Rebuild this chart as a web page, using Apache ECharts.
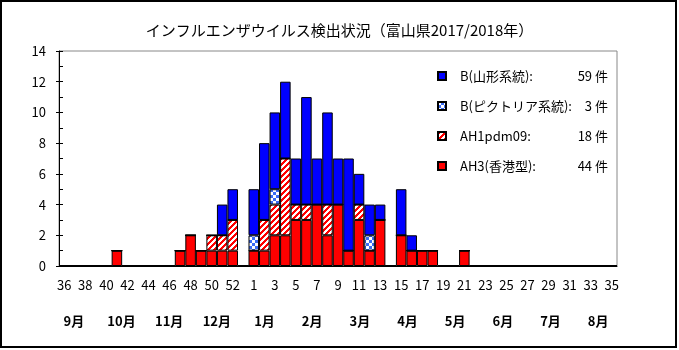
<!DOCTYPE html>
<html><head><meta charset="utf-8">
<script src="https://cdn.jsdelivr.net/npm/echarts@6/dist/echarts.min.js"></script>
<style>html,body{margin:0;padding:0;background:#fff}#c{width:679px;height:350px}</style>
</head><body><div id="c"></div>
<script>
// Week slots (2017 wk36 .. 2018 wk35); the blank slot sits between 52 and 1
const weeks = ['36','37','38','39','40','41','42','43','44','45','46','47','48','49','50','51','52','',
  '1','2','3','4','5','6','7','8','9','10','11','12','13','14','15','16','17','18','19','20','21',
  '22','23','24','25','26','27','28','29','30','31','32','33','34','35'];
const months = ['9月','10月','11月','12月','1月','2月','3月','4月','5月','6月','7月','8月'];
const yTicks = [0,2,4,6,8,10,12,14];

const ah3 = [0,0,0,0,0,1,0,0,0,0,0,1,2,1,1,1,1,0,
  1,1,2,2,3,3,4,2,4,1,3,1,3,0,2,1,1,1,0,0,1,
  0,0,0,0,0,0,0,0,0,0,0,0,0,0];
const ah1pdm = [0,0,0,0,0,0,0,0,0,0,0,0,0,0,1,1,2,0,
  0,2,2,5,1,1,0,2,0,0,1,0,0,0,0,0,0,0,0,0,0,
  0,0,0,0,0,0,0,0,0,0,0,0,0,0];
const bVic = [0,0,0,0,0,0,0,0,0,0,0,0,0,0,0,0,0,0,
  1,0,1,0,0,0,0,0,0,0,0,1,0,0,0,0,0,0,0,0,0,
  0,0,0,0,0,0,0,0,0,0,0,0,0,0];
const bYam = [0,0,0,0,0,0,0,0,0,0,0,0,0,0,0,2,2,0,
  3,5,5,5,3,7,3,6,3,6,2,2,1,0,3,1,0,0,0,0,0,
  0,0,0,0,0,0,0,0,0,0,0,0,0,0];

const names = ['AH3(香港型)','AH1pdm09','B(ピクトリア系統)','B(山形系統)'];
const seriesData = [ah3, ah1pdm, bVic, bYam];
const totals = {};
names.forEach((n,i)=>{ totals[n] = seriesData[i].reduce((a,b)=>a+b,0); });

function makePattern(size, fn){
  const c=document.createElement('canvas'); c.width=c.height=size;
  const ctx=c.getContext('2d');
  for(let y=0;y<size;y++) for(let x=0;x<size;x++){ ctx.fillStyle=fn(x,y); ctx.fillRect(x,y,1,1); }
  return {image:c, repeat:'repeat'};
}
const hatch = makePattern(6,(x,y)=>((x+y)%6<3)?'#ff0000':'#ffffff');
const checker = makePattern(6,(x,y)=>((Math.floor(x/3)+Math.floor(y/3))%2===0)?'#ffffff':'#3a6cf4');
const fills = ['#ff0000', hatch, checker, '#0000ff'];

const font = '"Noto Sans CJK JP", "Noto Sans", sans-serif';
const chart = echarts.init(document.getElementById('c'), null, {renderer:'canvas'});
chart.setOption({
  animation:false,
  backgroundColor:'#fff',
  title:{text:'インフルエンザウイルス検出状況（富山県2017/2018年）', left:'center', top:18,
    textStyle:{fontSize:15, fontWeight:'normal', color:'#000', fontFamily:font}},
  graphic:[{type:'rect', shape:{x:1,y:1,width:675,height:346}, style:{fill:'none', stroke:'#000', lineWidth:2}, z:100}],
  legend:{
    data:['B(山形系統)','B(ピクトリア系統)','AH1pdm09','AH3(香港型)'],
    orient:'vertical', left:432, top:64, itemWidth:8, itemHeight:8, itemGap:16, icon:'rect',
    formatter: n => '{n|'+n+':}{c|'+totals[n]+' 件}',
    textStyle:{fontFamily:font, fontSize:13, color:'#000', lineHeight:14,
      rich:{n:{width:106, padding:[0,0,0,9], fontSize:13, fontFamily:font},
            c:{width:42, align:'right', fontSize:13, fontFamily:font}}}
  },
  grid:[
    {left:59, right:62, top:51, bottom:84, show:true, borderColor:'#888', borderWidth:1},
    {left:50, right:57, top:305, height:5}
  ],
  xAxis:[
    {type:'category', gridIndex:0, data:weeks,
      axisLine:{lineStyle:{color:'#000', width:1}},
      axisTick:{inside:true, length:4, interval:0, lineStyle:{color:'#000'}},
      axisLabel:{interval:1, margin:13, fontSize:13, color:'#000', fontFamily:font}},
    {type:'category', gridIndex:1, data:months,
      axisLine:{show:false}, axisTick:{show:false},
      axisLabel:{margin:5, fontSize:13, fontWeight:'bold', color:'#000', fontFamily:font}}
  ],
  yAxis:[
    {type:'value', gridIndex:0, min:yTicks[0], max:yTicks[yTicks.length-1], interval:2,
      splitLine:{show:false},
      axisLine:{show:true, lineStyle:{color:'#000'}},
      axisTick:{show:true, length:3, lineStyle:{color:'#000'}},
      axisLabel:{margin:13, fontSize:13, color:'#000', fontFamily:font}},
    {type:'value', gridIndex:0, min:0, max:14, interval:1, position:'left',
      splitLine:{show:false}, axisLine:{show:false}, axisLabel:{show:false},
      axisTick:{show:true, inside:true, length:4, lineStyle:{color:'#000'}}},
    {type:'value', gridIndex:1, show:false}
  ],
  series: names.map((n,i)=>({
    name:n, type:'bar', stack:'all', xAxisIndex:0, yAxisIndex:0,
    barCategoryGap:'0%', data:seriesData[i],
    itemStyle:{color:fills[i], borderColor:'#000', borderWidth:1}
  }))
});
</script></body></html>
